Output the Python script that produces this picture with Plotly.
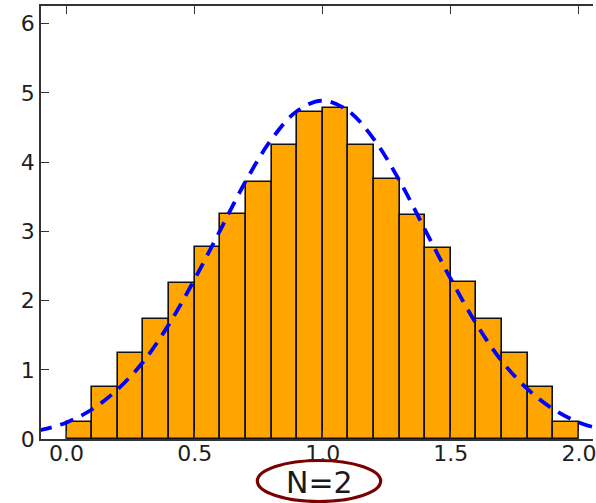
import plotly.graph_objects as go

# Histogram of the sum of two uniform samples (N=2), 20 bins on [0, 2]
bin_left = [0.0, 0.1, 0.2, 0.3, 0.4, 0.5, 0.6, 0.7, 0.8, 0.9,
            1.0, 1.1, 1.2, 1.3, 1.4, 1.5, 1.6, 1.7, 1.8, 1.9]
bin_width = 0.1
counts = [0.25, 0.75, 1.25, 1.73, 2.25, 2.77, 3.25, 3.71, 4.25, 4.73,
          4.78, 4.25, 3.76, 3.24, 2.76, 2.27, 1.73, 1.25, 0.75, 0.25]

# Normal approximation overlaid on the histogram
curve_x = [-0.2, -0.1, 0.0, 0.1, 0.2, 0.3, 0.4, 0.5, 0.6, 0.7, 0.8, 0.9, 1.0,
           1.1, 1.2, 1.3, 1.4, 1.5, 1.6, 1.7, 1.8, 1.9, 2.0, 2.1, 2.2]
curve_y = [0.065, 0.13, 0.24, 0.43, 0.72, 1.12, 1.66, 2.31, 3.02, 3.73, 4.33, 4.74, 4.89,
           4.74, 4.33, 3.73, 3.02, 2.31, 1.66, 1.12, 0.72, 0.43, 0.24, 0.13, 0.065]

x_ticks = [0.0, 0.5, 1.0, 1.5, 2.0]
x_tick_text = ["0.0", "0.5", "1.0", "1.5", "2.0"]
y_ticks = [0, 1, 2, 3, 4, 5, 6]
label_text = "N=2"

W, H = 596, 503
ml, mr, mt, mb = 41, 0, 6, 64
plot_w = W - ml - mr
plot_h = H - mt - mb

def px_x(p):
    return (p - ml) / plot_w

def px_y(p):
    return (H - mb - p) / plot_h

fig = go.Figure()
fig.add_trace(go.Bar(
    x=bin_left, y=counts, width=[bin_width] * len(bin_left), offset=0,
    marker=dict(color="#FFA500", line=dict(color="#111111", width=1.6)),
    showlegend=False, hoverinfo="skip",
))
fig.add_trace(go.Scatter(
    x=curve_x, y=curve_y, mode="lines",
    line=dict(color="#0000FF", width=3.8, dash="14px,9px", shape="spline", smoothing=1.0),
    showlegend=False, hoverinfo="skip",
))

font = dict(family="DejaVu Sans", size=22, color="#1e1e1e")

fig.update_layout(
    width=W, height=H,
    margin=dict(l=ml, r=mr, t=mt, b=mb, pad=0),
    paper_bgcolor="white", plot_bgcolor="white",
    bargap=0,
    font=font,
    xaxis=dict(
        range=[-0.1, 2.055], tickmode="array", tickvals=x_ticks, ticktext=x_tick_text,
        ticks="inside", ticklen=8, tickwidth=1.2, tickcolor="#333333",
        showline=True, linecolor="#333333", linewidth=1.6, mirror="ticks",
        showgrid=False, zeroline=False, tickfont=font, ticklabelstandoff=-6,
        ticklabeloverflow="allow",
    ),
    yaxis=dict(
        range=[0, 6.257], tickmode="array", tickvals=y_ticks,
        ticks="inside", ticklen=8, tickwidth=1.2, tickcolor="#333333",
        showline=True, linecolor="#333333", linewidth=1.6, mirror=False,
        showgrid=False, zeroline=False, tickfont=font, ticklabelstandoff=0,
        ticklabeloverflow="allow",
    ),
    shapes=[dict(
        type="circle", xref="paper", yref="paper", layer="above",
        x0=px_x(258.5), x1=px_x(382.5), y0=px_y(501.5), y1=px_y(460.5),
        line=dict(color="#7A0000", width=3.2), fillcolor="white",
    )],
    annotations=[dict(
        text=label_text, xref="paper", yref="paper",
        x=px_x(321), y=px_y(482.5), xanchor="center", yanchor="middle",
        showarrow=False, font=dict(family="DejaVu Sans", size=30, color="#1a1a1a"),
    )],
)

fig.write_html("out.html")
